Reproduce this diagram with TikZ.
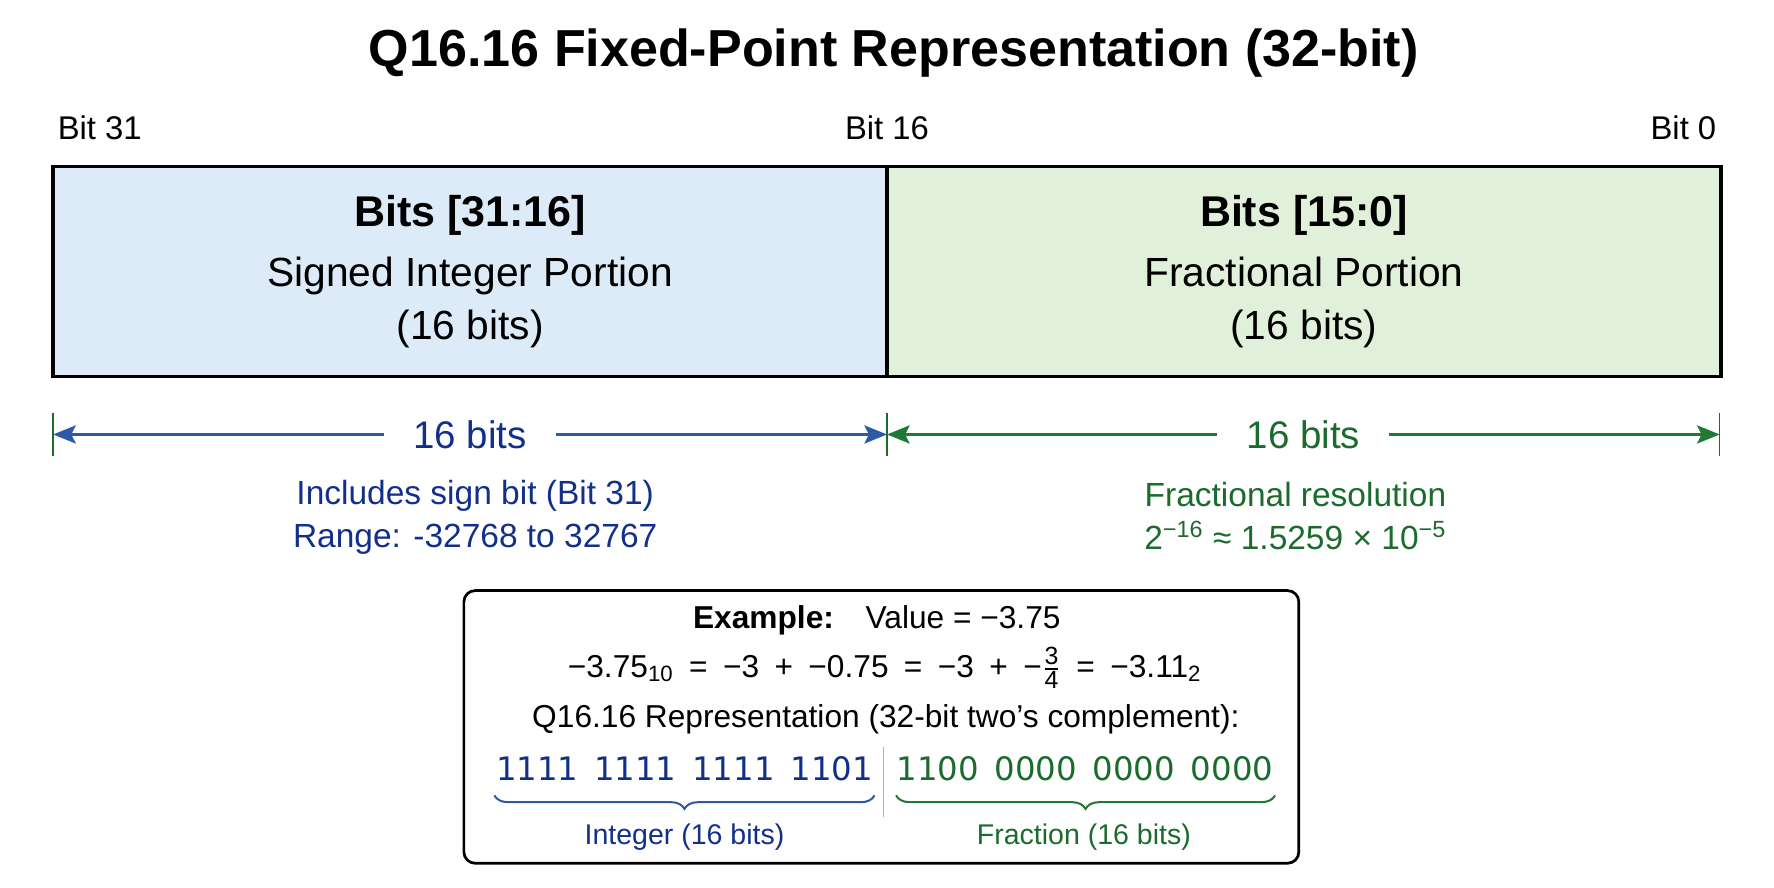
\documentclass[tikz,border=0pt]{standalone}
\usepackage{amsmath}
\usepackage{fontspec}
\setmainfont{Liberation Sans}
\newfontfamily\bitsfont{DejaVu Sans}
\usetikzlibrary{arrows.meta, positioning, decorations.pathreplacing}

\definecolor{intfill}{HTML}{DDEBF8}
\definecolor{fracfill}{HTML}{E1F0DB}
\definecolor{intnavy}{HTML}{12308A}
\definecolor{intblue}{HTML}{2C5AA8}
\definecolor{fracgreen}{HTML}{1B6B2D}
\definecolor{fracarrow}{HTML}{1F7A35}
\newcommand{\bitgap}{\hspace{7pt}}
\newcommand{\op}[1]{\hspace{6.8pt}#1\hspace{6.8pt}}
\newcommand{\smalldigit}[1]{\text{\fontsize{11}{12}\selectfont #1}}

\begin{document}
\begin{tikzpicture}[x=0.5pt,y=-0.5pt,>={Stealth[length=10pt,width=8pt,inset=2pt]},
    field/.style={draw=black,line width=1.5pt,minimum width=368.5pt,minimum height=93pt,
      inner sep=0pt,align=center,font=\fontsize{18}{23.5}\selectfont},
    bitlabel/.style={font=\fontsize{14.5}{17}\selectfont},
    dimlabel/.style={fill=white,inner xsep=13pt,font=\fontsize{17}{20}\selectfont},
    note/.style={align=center,font=\fontsize{14.8}{19}\selectfont},
    tick/.style={fracgreen,line width=0.6pt},
    extext/.style={font=\fontsize{14}{17}\selectfont},
    bits/.style={font=\bitsfont\fontsize{14.3}{17}\selectfont,inner sep=0pt},
    brace/.style={decorate,decoration={brace,mirror,amplitude=6pt},line width=0.9pt}]

    \useasboundingbox (0,0) rectangle (1568,784);

    % title and bit positions
    \node[font=\fontsize{23}{27}\selectfont\bfseries] (title) at (790,47) {Q16.16 Fixed-Point Representation (32-bit)};
    \node[bitlabel,anchor=west] (b31) at (44,113) {Bit 31};
    \node[bitlabel] (b16) at (784,113) {Bit 16};
    \node[bitlabel,anchor=east] (b0) at (1524,113) {Bit 0};

    % the two halves of the word
    \node[field,fill=intfill] (intf) at (415.5,240) {{\fontsize{19}{23.5}\selectfont\bfseries Bits [31:16]}\\[3pt]
      Signed Integer Portion\\(16 bits)};
    \node[field,fill=fracfill] (fracf) at (1152.5,240) {{\fontsize{19}{23.5}\selectfont\bfseries Bits [15:0]}\\[3pt]
      Fractional Portion\\(16 bits)};

    % widths
    \coordinate (tL) at (47,384);
    \coordinate (tM) at (784,384);
    \coordinate (tR) at (1520,384);
    \foreach \t in {tL,tM,tR}
      \draw[tick] (\t) ++(0,-19) -- ++(0,38);
    \draw[<->,intblue,line width=1.1pt] (tL) -- node[dimlabel,text=intnavy] {16 bits} (tM);
    \draw[<->,fracarrow,line width=1.1pt] (tM) -- node[dimlabel,text=fracgreen] {16 bits} (tR);

    \node[note,text=intnavy] (intnote) at (420,457) {Includes sign bit (Bit 31)\\Range: -32768 to 32767};
    \node[note,text=fracgreen] (fracnote) at (1145,456) {Fractional resolution\\
      2\textsuperscript{−16} ≈ 1.5259 × 10\textsuperscript{−5}};

    % worked example
    \node[draw=black,line width=1.2pt,rounded corners=5pt,minimum width=369pt,minimum height=120.5pt] (ex) at (779,642.5) {};
    \node[extext] (exhead) at (775,548) {\textbf{Example:}\quad Value = −3.75};
    \node[extext] (exeq) at (782,590) {−3.75$_{\text{10}}$\op{=}−3\op{+}−0.75\op{=}−3\op{+}−$\frac{\smalldigit{3}}{\smalldigit{4}}$\op{=}−3.11$_{\text{2}}$};
    \node[extext] (exrep) at (783,636) {Q16.16 Representation (32-bit two’s complement):};

    \node[bits,text=intnavy,anchor=east] (intbits) at (772,679) {1111\bitgap 1111\bitgap 1111\bitgap 1101};
    \node[bits,text=fracgreen,anchor=west] (fracbits) at (792,679) {1100\bitgap 0000\bitgap 0000\bitgap 0000};
    \draw[gray!60,line width=0.6pt] (781,660) -- (781,722);

    \draw[brace,intblue] (437,703) -- (773,703);
    \draw[brace,fracarrow] (792,703) -- (1127,703);
    \node[extext,font=\fontsize{12.6}{15}\selectfont,text=intnavy] (intlbl) at (605,740) {Integer (16 bits)};
    \node[extext,font=\fontsize{12.6}{15}\selectfont,text=fracgreen] (fraclbl) at (958,740) {Fraction (16 bits)};
\end{tikzpicture}
\end{document}
